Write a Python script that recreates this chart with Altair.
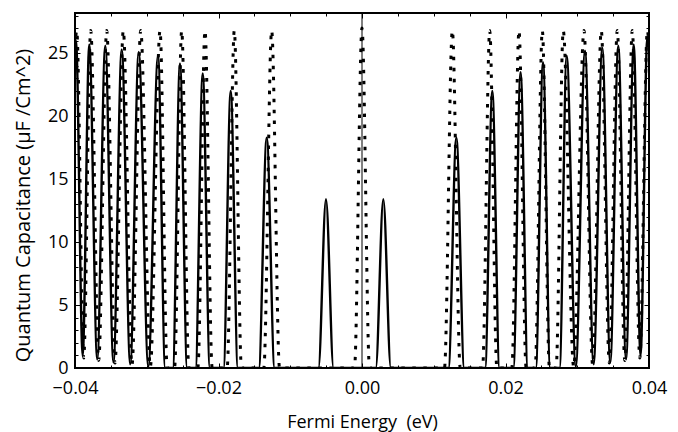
import altair as alt
import pandas as pd

# ---- data (Fermi energy in eV, capacitance in uF/cm^2) ----
solid_x = [-0.0400, -0.03986, -0.03893, -0.03801, -0.03690, -0.03578, -0.03464, -0.03349,
           -0.03230, -0.03112, -0.02978, -0.02843, -0.02743, -0.02637, -0.02537, -0.02437,
           -0.02320, -0.02220, -0.02120, -0.01930, -0.01830, -0.01730, -0.01438, -0.01328,
           -0.01218, -0.00607, -0.00502, -0.00397, 0.00192, 0.00297, 0.00402, 0.01205,
           0.01315, 0.01425, 0.01716, 0.01816, 0.01916, 0.02110, 0.02210, 0.02310,
           0.02423, 0.02523, 0.02623, 0.02753, 0.02853, 0.02980, 0.03108, 0.03228,
           0.03349, 0.03460, 0.03572, 0.03680, 0.03787, 0.03882, 0.03977, 0.0400]
solid_y = [24.5, 26.0, 1.0, 25.7, 0.7, 25.6, 0.45, 25.3,
           0.3, 25.1, 0.12, 24.8, 0.0, 0.0, 24.2, 0.0,
           0.0, 23.4, 0.0, 0.0, 22.0, 0.0, 0.0, 18.3,
           0.0, 0.0, 13.4, 0.0, 0.0, 13.4, 0.0, 0.0,
           18.3, 0.0, 0.0, 22.0, 0.0, 0.0, 23.5, 0.0,
           0.0, 24.3, 0.0, 0.0, 24.8, 0.12, 25.2, 0.3,
           25.45, 0.45, 25.6, 0.7, 25.7, 1.0, 26.3, 25.5]

dotted_x = [-0.0400, -0.03976, -0.03879, -0.03781, -0.03670, -0.03558, -0.03443, -0.03327,
            -0.03206, -0.03084, -0.02950, -0.02815, -0.02715, -0.02613, -0.02513, -0.02413,
            -0.02288, -0.02188, -0.02088, -0.01880, -0.01780, -0.01680, -0.01369, -0.01259,
            -0.01149, -0.00105, 0.0, 0.00105, 0.01149, 0.01259, 0.01369, 0.01680,
            0.01780, 0.01880, 0.02088, 0.02188, 0.02288, 0.02413, 0.02513, 0.02613,
            0.02705, 0.02805, 0.02950, 0.03094, 0.03215, 0.03335, 0.03447, 0.03558,
            0.03663, 0.03767, 0.03872, 0.03977, 0.0400]
dotted_y = [25.5, 26.8, 0.8, 26.8, 0.6, 26.8, 0.4, 26.8,
            0.25, 26.8, 0.1, 26.8, 0.0, 0.0, 26.8, 0.0,
            0.0, 26.8, 0.0, 0.0, 26.8, 0.0, 0.0, 26.8,
            0.0, 0.0, 27.0, 0.0, 0.0, 26.8, 0.0, 0.0,
            26.8, 0.0, 0.0, 26.8, 0.0, 0.0, 26.8, 0.0,
            0.0, 26.8, 0.1, 26.8, 0.25, 26.8, 0.4, 26.8,
            0.6, 26.8, 0.8, 26.8, 25.5]

origin_x = [0.0]

x_major = [-0.04, -0.02, 0.0, 0.02, 0.04]
x_minor = [-0.035, -0.03, -0.025, -0.015, -0.01, -0.005,
           0.005, 0.01, 0.015, 0.025, 0.03, 0.035]
y_major = [0, 5, 10, 15, 20, 25]
y_minor = [1, 2, 3, 4, 6, 7, 8, 9, 11, 12, 13, 14, 16, 17, 18, 19,
           21, 22, 23, 24, 26, 27, 28]

solid_df = pd.DataFrame({"x": solid_x, "y": solid_y})
dotted_df = pd.DataFrame({"x": dotted_x, "y": dotted_y})
origin_df = pd.DataFrame({"x": origin_x})

FONT = "Open Sans"
xscale = alt.Scale(domain=[-0.04, 0.04], nice=False, zero=False)
yscale = alt.Scale(domain=[0, 28.2], nice=False, zero=False)


def tick_axis(orient, values, size, **kw):
    return alt.Axis(orient=orient, values=values, offset=-size, tickSize=size,
                    tickWidth=1, tickColor="black", domain=False, grid=False, **kw)


x_bottom = tick_axis("bottom", x_major, 5, format=".2f", labelFont=FONT, labelFontSize=18,
                     labelColor="black", labelPadding=11, labelFlush=False,
                     title="Fermi Energy\u00a0 (eV)", titleFont=FONT, titleFontSize=18,
                     titleFontWeight="normal", titleColor="black", titleY=64,
                     titleBaseline="alphabetic")
y_left = tick_axis("left", y_major, 5, format="d", labelFont=FONT, labelFontSize=18,
                   labelColor="black", labelPadding=7, labelFlush=False,
                   title="Quantum Capacitance (\u03bcF /Cm^2)", titleFont=FONT,
                   titleFontSize=20, titleFontWeight="normal", titleColor="black",
                   titleX=-51, titleY=192, titleAngle=270, titleAlign="center",
                   titleBaseline="alphabetic")
x_top = tick_axis("top", x_major, 5, labels=False, title=None)
y_right = tick_axis("right", y_major, 5, labels=False, title=None)
x_bottom_minor = tick_axis("bottom", x_minor, 3, labels=False, title=None)
y_left_minor = tick_axis("left", y_minor, 3, labels=False, title=None)
x_top_minor = tick_axis("top", x_minor, 3, labels=False, title=None)
y_right_minor = tick_axis("right", y_minor, 3, labels=False, title=None)

origin = alt.Chart(origin_df).mark_rule(color="black", strokeWidth=1).encode(
    x=alt.X("x:Q", scale=xscale, axis=None)
)

solid = alt.Chart(solid_df).mark_line(
    color="black", strokeWidth=2.4, interpolate="monotone", clip=True
).encode(
    x=alt.X("x:Q", scale=xscale, axis=x_bottom),
    y=alt.Y("y:Q", scale=yscale, axis=y_left),
    order="x:Q",
)

dotted = alt.Chart(dotted_df).mark_line(
    color="black", strokeWidth=3, strokeDash=[3.5, 7.5], interpolate="monotone", clip=True
).encode(
    x=alt.X("x:Q", scale=xscale, axis=x_top),
    y=alt.Y("y:Q", scale=yscale, axis=y_right),
    order="x:Q",
)

minor1 = alt.Chart(solid_df).mark_line(opacity=0).encode(
    x=alt.X("x:Q", scale=xscale, axis=x_bottom_minor),
    y=alt.Y("y:Q", scale=yscale, axis=y_left_minor),
)
minor2 = alt.Chart(solid_df).mark_line(opacity=0).encode(
    x=alt.X("x:Q", scale=xscale, axis=x_top_minor),
    y=alt.Y("y:Q", scale=yscale, axis=y_right_minor),
)

chart = alt.layer(origin, solid, dotted, minor1, minor2).resolve_axis(
    x="independent", y="independent"
).properties(
    width=574,
    height=355,
    autosize=alt.AutoSizeParams(type="none"),
    padding={"left": 67, "top": 5, "right": 19, "bottom": 66},
    background="white",
).configure_view(stroke="black", strokeWidth=2)

chart.save("out.html", embed_options={"renderer": "svg", "actions": False})
